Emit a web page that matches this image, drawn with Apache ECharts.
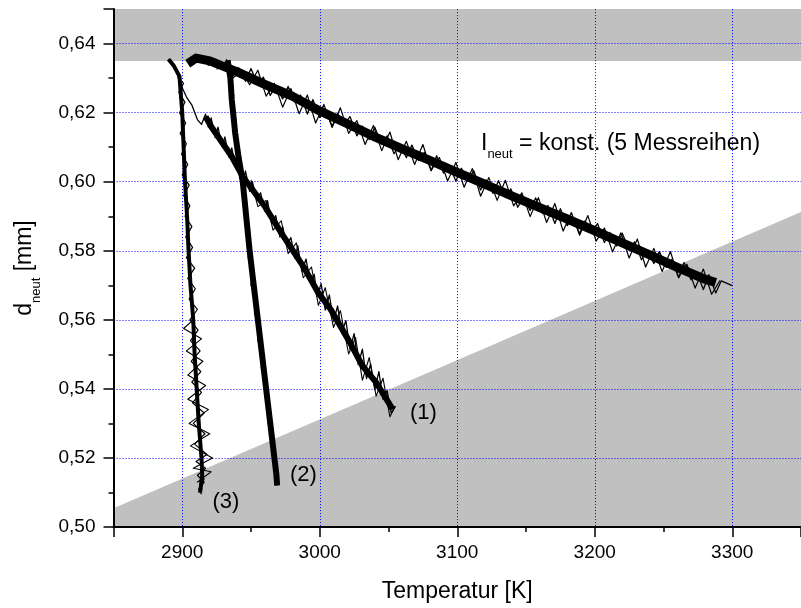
<!DOCTYPE html>
<html><head><meta charset="utf-8">
<script src="https://cdn.jsdelivr.net/npm/echarts@6/dist/echarts.min.js"></script>
<style>html,body{margin:0;padding:0;background:#fff}#c{width:801px;height:608px}</style>
</head><body><div id="c"></div>
<script>
// ---- data ----
const xRange = [2850, 3350];
const yRange = [0.50, 0.65];
const yTickStep = 0.02;
const xTitle = 'Temperatur [K]';
const yTitleParts = ['d', 'neut', ' [mm]'];
const noteParts = ['I', 'neut', ' = konst. (5 Messreihen)'];
const runLabels = ['(1)', '(2)', '(3)'];

// shaded regions
const topBand = [[2850, 0.635], [3350, 0.635]];
const limitLine = [[2850, 0.5054], [3350, 0.5912]];

// long strand (I_neut = konst.)
const longCore = [[2904,0.6342],[2910,0.6358],[2920,0.6350],[2940,0.6318],[2960,0.6282],[2980,0.6248],[3000,0.6205],[3020,0.6168],[3040,0.6130],[3060,0.6095],[3080,0.6062],[3100,0.6027],[3120,0.5993],[3140,0.5958],[3160,0.5925],[3180,0.5892],[3200,0.5858],[3220,0.5823],[3240,0.5788],[3260,0.5752],[3280,0.5718],[3288,0.5708]];
const longNoise = [[2906,0.6356],[2910,0.6346],[2914,0.6360],[2919,0.6337],[2923,0.6355],[2928,0.6329],[2932,0.6349],[2937,0.6307],[2941,0.6330],[2946,0.6291],[2950,0.6328],[2955,0.6279],[2959,0.6303],[2964,0.6250],[2968,0.6277],[2973,0.6240],[2977,0.6276],[2982,0.6230],[2986,0.6251],[2991,0.6196],[2995,0.6238],[3000,0.6186],[3004,0.6209],[3009,0.6161],[3013,0.6198],[3018,0.6164],[3022,0.6189],[3027,0.6133],[3031,0.6161],[3036,0.6122],[3040,0.6158],[3045,0.6109],[3049,0.6133],[3054,0.6081],[3058,0.6107],[3063,0.6070],[3067,0.6106],[3072,0.6061],[3076,0.6085],[3081,0.6032],[3085,0.6075],[3090,0.6025],[3094,0.6048],[3099,0.6002],[3103,0.6039],[3108,0.6005],[3112,0.6032],[3117,0.5976],[3121,0.6005],[3126,0.5966],[3130,0.6003],[3135,0.5955],[3139,0.5979],[3144,0.5926],[3148,0.5954],[3153,0.5917],[3157,0.5953],[3162,0.5908],[3166,0.5931],[3171,0.5879],[3175,0.5922],[3180,0.5873],[3184,0.5896],[3189,0.5850],[3193,0.5887],[3198,0.5853],[3202,0.5879],[3207,0.5824],[3211,0.5853],[3216,0.5814],[3220,0.5851],[3225,0.5802],[3229,0.5826],[3234,0.5774],[3238,0.5801],[3243,0.5763],[3247,0.5798],[3252,0.5752],[3256,0.5775],[3261,0.5722],[3265,0.5766],[3270,0.5716],[3274,0.5739],[3279,0.5688],[3283,0.5731],[3288,0.5678],[3292,0.5713],[3300,0.5699]];
const longNoise2 = [[2925,0.6326],[2931,0.6344],[2937,0.6301],[2943,0.6320],[2949,0.6281],[2955,0.6323],[2961,0.6248],[2967,0.6285],[2973,0.6216],[2979,0.6270],[2985,0.6197],[2991,0.6251],[2997,0.6170],[3003,0.6224],[3009,0.6157],[3015,0.6214],[3021,0.6140],[3027,0.6177],[3033,0.6108],[3039,0.6163],[3045,0.6090],[3051,0.6144],[3057,0.6064],[3063,0.6117],[3069,0.6050],[3075,0.6108],[3081,0.6033],[3087,0.6070],[3093,0.6002],[3099,0.6056],[3105,0.5984],[3111,0.6038],[3117,0.5958],[3123,0.6012],[3129,0.5946],[3135,0.6004],[3141,0.5930],[3147,0.5968],[3153,0.5899],[3159,0.5954],[3165,0.5882],[3171,0.5937],[3177,0.5857],[3183,0.5911],[3189,0.5845],[3195,0.5902],[3201,0.5828],[3207,0.5866],[3213,0.5797],[3219,0.5852],[3225,0.5779],[3231,0.5834],[3237,0.5753],[3243,0.5807],[3249,0.5740],[3255,0.5798],[3261,0.5723],[3267,0.5761],[3273,0.5692],[3279,0.5747],[3285,0.5674],[3291,0.5714]];

// run (1)
const run1Core = [[2917,0.6188],[2921,0.6160],[2936,0.6073],[2944,0.6015],[2960,0.5929],[2972,0.5852],[2988,0.5755],[2999,0.5678],[3008,0.5630],[3022,0.5534],[3031,0.5467],[3041,0.5419],[3053,0.5341]];
const run1Noise = [[2899,0.6281],[2903,0.6246],[2907,0.6222],[2911,0.6180],[2914,0.6166],[2917,0.6196],[2919,0.6158],[2921,0.6185],[2924,0.6128],[2926,0.6158],[2929,0.6102],[2931,0.6130],[2934,0.6071],[2936,0.6098],[2939,0.6040],[2941,0.6060],[2944,0.6000],[2946,0.6031],[2949,0.5972],[2951,0.6000],[2954,0.5950],[2957,0.5968],[2960,0.5914],[2962,0.5945],[2965,0.5880],[2968,0.5902],[2971,0.5840],[2973,0.5870],[2976,0.5816],[2979,0.5838],[2982,0.5778],[2984,0.5815],[2987,0.5740],[2990,0.5776],[2993,0.5712],[2996,0.5732],[2998,0.5668],[3001,0.5705],[3004,0.5628],[3007,0.5672],[3010,0.5596],[3013,0.5640],[3016,0.5562],[3019,0.5598],[3022,0.5515],[3025,0.5560],[3028,0.5470],[3031,0.5515],[3034,0.5430],[3037,0.5472],[3040,0.5398],[3043,0.5450],[3046,0.5370],[3049,0.5395],[3052,0.5330],[3055,0.5350]];
const run1Noise2 = [[2950,0.6005],[2955,0.5928],[2961,0.5946],[2966,0.5860],[2972,0.5887],[2977,0.5792],[2983,0.5823],[2988,0.5722],[2994,0.5753],[2999,0.5642],[3004,0.5693],[3010,0.5578],[3015,0.5627],[3021,0.5501],[3026,0.5549],[3031,0.5425],[3036,0.5491],[3041,0.5379],[3046,0.5431],[3051,0.5319],[3055,0.5350]];

// run (2)
const run2Core = [[2933,0.6352],[2935,0.6300],[2936,0.6238],[2938.5,0.6141],[2941,0.6070],[2944,0.6000],[2946.5,0.5900],[2949,0.5800],[2952,0.5700],[2955,0.5600],[2958,0.5500],[2961,0.5400],[2964,0.5300],[2967,0.5200],[2968.5,0.5150],[2969,0.5120]];
const run2Noise = [[2932,0.6355],[2936.5,0.6320],[2934,0.6290],[2937.5,0.6250],[2935,0.6220],[2939,0.6180],[2936.5,0.6150],[2940.5,0.6110],[2939,0.6080],[2943,0.6040],[2942,0.6010],[2945.5,0.5970],[2944,0.5940],[2947.5,0.5900],[2946,0.5860],[2949.5,0.5820],[2948,0.5780],[2951,0.5740],[2950,0.5700],[2953.5,0.5660],[2952.5,0.5620],[2956,0.5580],[2955,0.5540],[2958.5,0.5500],[2957.5,0.5460],[2961,0.5420],[2960,0.5380],[2963.5,0.5340],[2962.5,0.5300],[2966,0.5260],[2965,0.5220],[2968,0.5180],[2967,0.5150],[2970,0.5130],[2968.5,0.5120]];

// run (3)
const run3Core = [[2890,0.6355],[2894,0.6335],[2898,0.6305],[2899,0.6250],[2900,0.6200],[2901,0.6100],[2902,0.6000],[2903.5,0.5900],[2904.6,0.5800],[2906,0.5700],[2908,0.5600],[2909,0.5500],[2910.5,0.5400],[2912,0.5300],[2914,0.5200],[2914.5,0.5150],[2913,0.5100]];
const run3Noise = [[2890,0.6355],[2896,0.6325],[2897,0.6300],[2901,0.6285],[2897.5,0.6260],[2902,0.6230],[2898,0.6200],[2902.5,0.6170],[2898.5,0.6140],[2903,0.6110],[2899.5,0.6080],[2904,0.6050],[2900,0.6020],[2905,0.5990],[2901,0.5960],[2905.5,0.5930],[2902,0.5900],[2907,0.5870],[2902.5,0.5840],[2907.5,0.5810],[2903,0.5780],[2909,0.5750],[2904,0.5720],[2909.5,0.5690],[2905,0.5660],[2911,0.5630],[2905.5,0.5600],[2911.5,0.5570],[2906,0.5540],[2913,0.5510],[2906.5,0.5480],[2913.5,0.5450],[2907,0.5420],[2914,0.5390],[2907.5,0.5360],[2916,0.5330],[2908,0.5300],[2916.5,0.5270],[2909,0.5240],[2918,0.5210],[2910,0.5190],[2917,0.5170],[2911,0.5150],[2916,0.5130],[2912,0.5110],[2914,0.5095]];
const run3Noise2 = [[2908,0.5600],[2901,0.5575],[2914,0.5545],[2903,0.5510],[2915,0.5480],[2904,0.5440],[2917,0.5410],[2904,0.5370],[2919,0.5340],[2905,0.5300],[2920,0.5270],[2906,0.5235],[2922,0.5200],[2908,0.5170],[2921,0.5160],[2911,0.5130],[2916,0.5140],[2912,0.5100]];

// ---- chart ----
const FONT = "'Liberation Sans', Arial, sans-serif";
const GREY = '#c0c0c0';
const chart = echarts.init(document.getElementById('c'), null, {renderer: 'canvas'});

function strand(data, width) {
  return {type: 'line', data: data, showSymbol: false, symbol: 'none', z: 5,
    lineStyle: {color: '#000', width: width, join: 'round'}, silent: true};
}

chart.setOption({
  animation: false,
  backgroundColor: '#fff',
  grid: {left: 113.5, top: 9.1, width: 696.4, height: 518.6, containLabel: false},
  xAxis: {
    type: 'value', min: xRange[0], max: xRange[1], splitNumber: 5, z: 3,
    axisLine: {show: true, onZero: false, lineStyle: {color: '#000', width: 2}},
    axisTick: {show: true, length: 10, lineStyle: {color: '#000', width: 1.5}},
    minorTick: {show: true, splitNumber: 2, length: 5, lineStyle: {color: '#000', width: 1.5}},
    axisLabel: {margin: 16, fontSize: 19, color: '#000', fontFamily: FONT, showMinLabel: false, showMaxLabel: false,
      formatter: v => String(v)},
    splitLine: {show: true, showMinLine: false, showMaxLine: false, lineStyle: {color: '#0000ff', type: [1, 2], width: 1}},
    name: xTitle, nameLocation: 'middle', nameGap: 53,
    nameTextStyle: {fontSize: 23, color: '#000', fontFamily: FONT}
  },
  yAxis: {
    type: 'value', min: yRange[0], max: yRange[1], interval: yTickStep, z: 3,
    axisLine: {show: true, onZero: false, lineStyle: {color: '#000', width: 2}},
    axisTick: {show: true, length: 10, lineStyle: {color: '#000', width: 1.5}},
    minorTick: {show: true, splitNumber: 2, length: 5, lineStyle: {color: '#000', width: 1.5}},
    axisLabel: {margin: 18, fontSize: 19, color: '#000', fontFamily: FONT, showMaxLabel: false,
      formatter: v => v.toFixed(2).replace('.', ',')},
    splitLine: {show: true, showMinLine: false, showMaxLine: false, lineStyle: {color: '#0000ff', type: [1, 2], width: 1}},
    name: '{a|' + yTitleParts[0] + '}{b|' + yTitleParts[1] + '}{a|' + yTitleParts[2] + '}',
    nameLocation: 'middle', nameGap: 71,
    nameTextStyle: {color: '#000', fontFamily: FONT, rich: {
      a: {fontSize: 23, lineHeight: 24, verticalAlign: 'top', color: '#000', fontFamily: FONT},
      b: {fontSize: 13, lineHeight: 29, verticalAlign: 'bottom', color: '#000', fontFamily: FONT}
    }}
  },
  series: [
    {type: 'line', data: topBand, showSymbol: false, symbol: 'none', z: 1, silent: true,
      lineStyle: {width: 0, color: GREY}, areaStyle: {color: GREY, opacity: 1, origin: 'end'}},
    {type: 'line', data: limitLine, showSymbol: false, symbol: 'none', z: 1, silent: true,
      lineStyle: {width: 0, color: GREY}, areaStyle: {color: GREY, opacity: 1, origin: 'start'}},
    strand(longCore, 9), strand(longNoise, 1.3), strand(longNoise2, 1.2),
    strand(run1Core, 6), strand(run1Noise, 1.3), strand(run1Noise2, 1.1),
    strand(run2Core, 6), strand(run2Noise, 1.2),
    strand(run3Core, 4), strand(run3Noise, 1.2), strand(run3Noise2, 1.1)
  ],
  graphic: [
    {type: 'text', x: 481, y: 131.7, z: 10, silent: true, style: {
      text: '{a|' + noteParts[0] + '}{b|' + noteParts[1] + '}{a|' + noteParts[2] + '}',
      verticalAlign: 'top', align: 'left',
      rich: {
        a: {fontSize: 23, lineHeight: 24, verticalAlign: 'top', fill: '#000', fontFamily: FONT},
        b: {fontSize: 13, lineHeight: 29, verticalAlign: 'bottom', fill: '#000', fontFamily: FONT}
      }}},
    {type: 'text', x: 410, y: 413, z: 10, silent: true, style: {text: runLabels[0], fontSize: 22, fontFamily: FONT, fill: '#000', align: 'left', verticalAlign: 'middle'}},
    {type: 'text', x: 290, y: 475, z: 10, silent: true, style: {text: runLabels[1], fontSize: 22, fontFamily: FONT, fill: '#000', align: 'left', verticalAlign: 'middle'}},
    {type: 'text', x: 212.5, y: 502, z: 10, silent: true, style: {text: runLabels[2], fontSize: 22, fontFamily: FONT, fill: '#000', align: 'left', verticalAlign: 'middle'}}
  ]
});
</script></body></html>
